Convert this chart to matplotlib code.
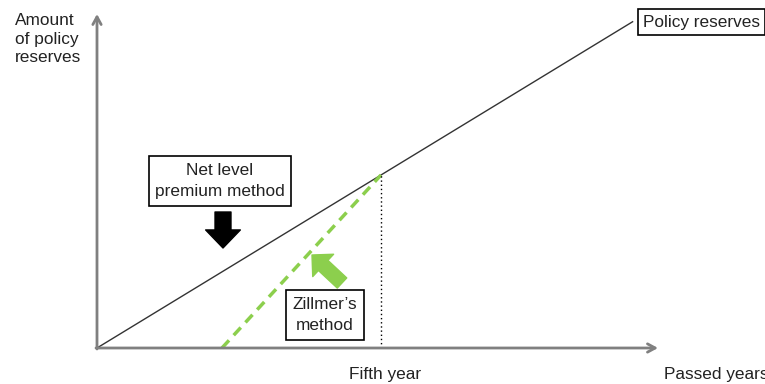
import matplotlib.pyplot as plt

plt.rcParams['font.family'] = ['Liberation Sans', 'DejaVu Sans']

# data (years, reserve units)
level_years = [0, 9.44]
level_reserves = [0, 94.4]
zill_years = [2.2, 5]
zill_reserves = [0, 50]
fifth_year = 5
fifth_reserve = 50

# pixel layout helpers
X0, Y0 = 97, 348          # origin in pixels
PX_YEAR, PX_UNIT = 56.8, 3.46


def px(x, y):
    return (x - X0) / PX_YEAR, (Y0 - y) / PX_UNIT


fig = plt.figure(figsize=(7.65, 3.84), dpi=100)
ax = fig.add_axes([0, 0, 1, 1])
ax.set_xlim(px(0, 0)[0], px(765, 0)[0])
ax.set_ylim(px(0, 384)[1], px(0, 0)[1])
ax.axis('off')

grey = '#808080'
# axes arrows
ax.annotate('', xy=px(97, 14), xytext=px(97, 349),
            arrowprops=dict(arrowstyle='->,head_width=0.3,head_length=0.55',
                            color=grey, lw=2, shrinkA=0, shrinkB=0))
ax.annotate('', xy=px(658, 348), xytext=px(96, 348),
            arrowprops=dict(arrowstyle='->,head_width=0.3,head_length=0.55',
                            color=grey, lw=2, shrinkA=0, shrinkB=0))

# lines
ax.plot(level_years, level_reserves, color='#333333', lw=1, solid_capstyle='butt')
ax.plot(zill_years, zill_reserves, color='#8ccf4d', lw=2.5, ls=(0, (3, 2)))
ax.plot([fifth_year, fifth_year], [0, fifth_reserve], color='black', lw=1, ls=(0, (1, 2)))

fs = 12.4
tc = '#222222'
ax.text(*px(15, 13), 'Amount\nof policy\nreserves', ha='left', va='top',
        fontsize=fs, color=tc, linespacing=1.3)
ax.text(*px(385, 375), 'Fifth year', ha='center', va='center', fontsize=fs, color=tc)
ax.text(*px(664, 375), 'Passed years', ha='left', va='center', fontsize=fs, color=tc)

box = dict(boxstyle='square,pad=0.38', fc='white', ec='black', lw=1.2)
ax.text(*px(220, 181), 'Net level\npremium method', ha='center', va='center',
        fontsize=fs, color=tc, bbox=box, linespacing=1.5)
ax.text(*px(325, 315), 'Zillmer\u2019s\nmethod', ha='center', va='center',
        fontsize=fs, color=tc, bbox=box, linespacing=1.5)
ax.text(*px(643, 22), 'Policy reserves', ha='left', va='center',
        fontsize=fs, color=tc, bbox=dict(boxstyle='square,pad=0.3', fc='white', ec='black', lw=1.2))

# block arrows
ax.annotate('', xy=px(223, 248), xytext=px(223, 212),
            arrowprops=dict(arrowstyle='simple,head_width=25,head_length=13,tail_width=11.5',
                            mutation_scale=1, fc='black', ec='black', shrinkA=0, shrinkB=0))
ax.annotate('', xy=px(312, 255), xytext=px(342, 283),
            arrowprops=dict(arrowstyle='simple,head_width=22,head_length=11,tail_width=10',
                            mutation_scale=1, fc='#8ccf4d', ec='#8ccf4d', shrinkA=0, shrinkB=0))

fig.savefig('out.png', dpi=100)
